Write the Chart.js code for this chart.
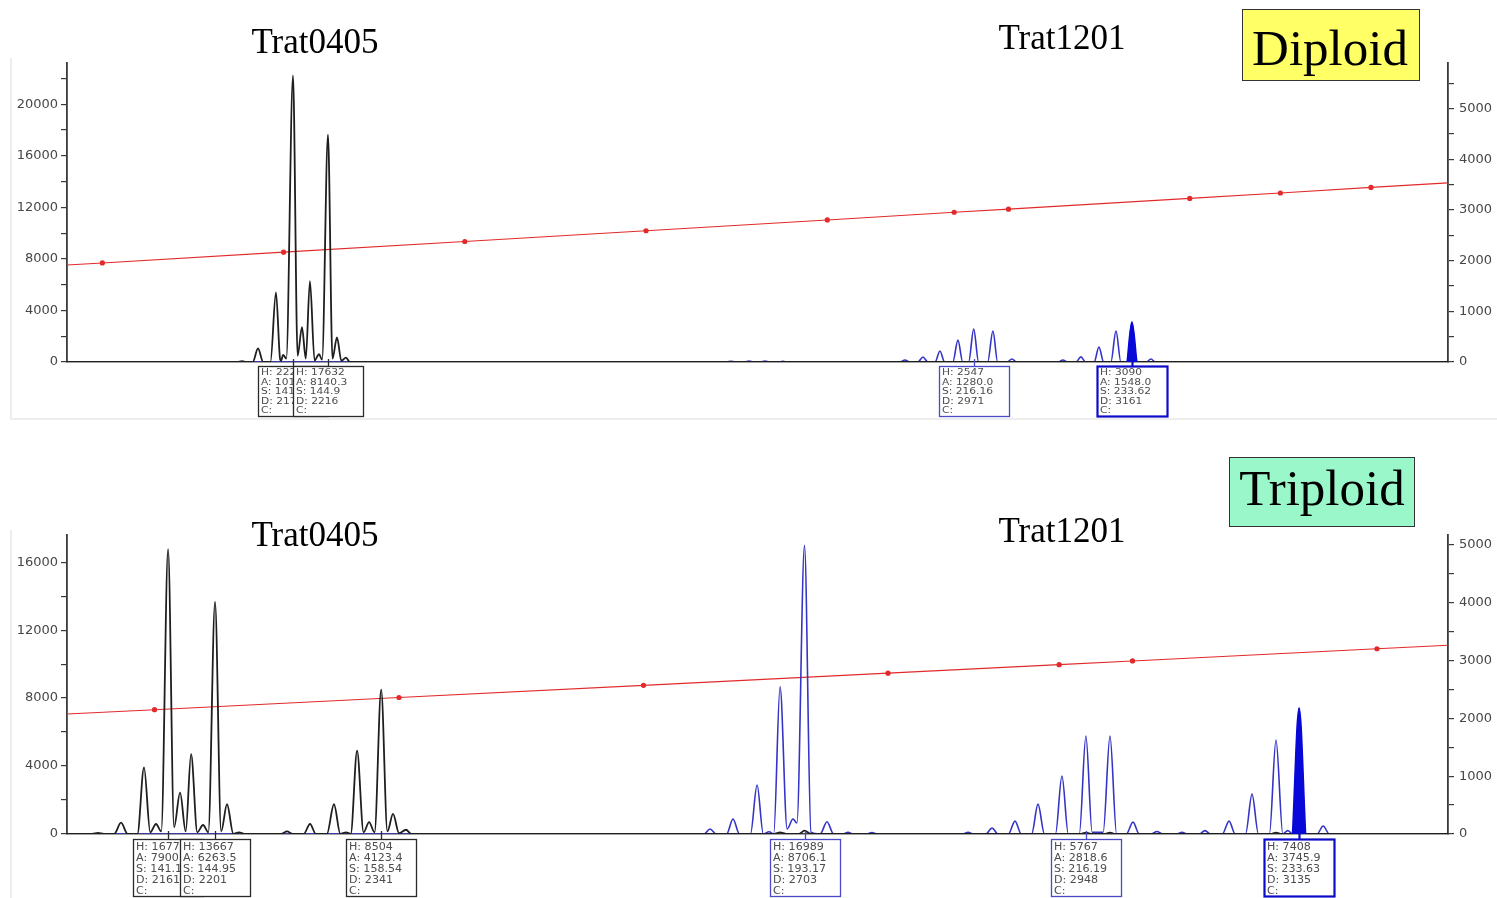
<!DOCTYPE html>
<html>
<head>
<meta charset="utf-8">
<script src="https://cdn.jsdelivr.net/npm/chart.js@4.4.1/dist/chart.umd.min.js"></script>
<style>
  html, body { margin: 0; padding: 0; background: #fff; }
  body { width: 1497px; height: 898px; overflow: hidden; position: relative; }
  canvas { position: absolute; left: 0; }
  #cTop { top: 0; }
  #cBot { top: 450px; }
  .frame { position: absolute; border-left: 2px solid #ededed; }
  .serif { position: absolute; font-family: 'Liberation Serif', 'Times New Roman', serif; color: #000;
           line-height: 0; white-space: nowrap; transform: translateX(-50%); }
  .tag { position: absolute; box-sizing: border-box; border: 1.5px solid #333; }
</style>
</head>
<body>
<div class="frame" style="left:10px;top:58px;width:1487px;height:360px;border-bottom:2px solid #ededed"></div>
<div class="frame" style="left:10px;top:530px;height:368px"></div>

<canvas id="cTop" width="1497" height="420"></canvas>
<canvas id="cBot" width="1497" height="448"></canvas>

<div class="serif" style="left:315px;top:42px;font-size:35px">Trat0405</div>
<div class="serif" style="left:1062px;top:38px;font-size:35px">Trat1201</div>
<div class="tag" style="left:1242px;top:9px;width:178px;height:72px;background:#ffff66"></div>
<div class="serif" style="left:1330px;top:48px;font-size:51px">Diploid</div>

<div class="serif" style="left:315px;top:535px;font-size:35px">Trat0405</div>
<div class="serif" style="left:1062px;top:531px;font-size:35px">Trat1201</div>
<div class="tag" style="left:1229px;top:457px;width:186px;height:70px;background:#99f7c9"></div>
<div class="serif" style="left:1322px;top:488px;font-size:51px">Triploid</div>

<script>
// ---- Diploid sample -------------------------------------------------------
// x range of the run window, in base pairs
const diploidRange = [116.1, 268.5];

// Axis tick positions (labels on every other one)
const diploidRfuTicks  = [0, 2000, 4000, 6000, 8000, 10000, 12000, 14000, 16000, 18000, 20000, 22000];
const diploidScanTicks = [0, 500, 1000, 1500, 2000, 2500, 3000, 3500, 4000, 4500, 5000, 5500];

// Trace points: [size (bp), signal (RFU)], apexes and valleys along each dye trace
const diploidTrat0405 = [
  [116.1, 0], [134.9, 0], [135.41, 60], [135.9, 0], [136.6, 0], [137.18, 1050], [137.75, 0],
  [138.55, 0], [139.16, 5400], [139.62, 200], [139.72, 90], [139.95, 560], [140.3, 260],
  [141.04, 22238], [141.55, 480], [142.03, 2700], [142.45, 260], [142.91, 6280], [143.42, 120],
  [143.91, 600], [144.25, 180], [144.9, 17632], [145.4, 260], [145.89, 1900], [146.38, 90],
  [146.89, 340], [147.3, 0], [268.5, 0]
];
const diploidTrat1201 = [
  [116.1, 0], [188.9, 0], [189.37, 60], [189.85, 0], [190.9, 0], [191.36, 80], [191.85, 0],
  [192.65, 0], [193.12, 80], [193.6, 0], [194.6, 0], [195.1, 50], [195.6, 0],
  [208.05, 0], [208.57, 150], [209.1, 0], [210.0, 0], [210.56, 390], [211.1, 0],
  [211.9, 0], [212.43, 850], [212.95, 0], [213.85, 0], [214.42, 1700], [214.95, 0],
  [215.6, 0], [216.16, 2547], [216.7, 0], [217.7, 0], [218.28, 2400], [218.8, 0],
  [219.85, 0], [220.38, 230], [220.9, 0], [225.5, 0], [226.0, 150], [226.5, 0],
  [227.45, 0], [227.99, 400], [228.5, 0], [229.45, 0], [229.98, 1160], [230.5, 0],
  [231.3, 0], [231.86, 2400], [232.4, 0], [233.1, 0], [233.62, 3090], [234.15, 0],
  [235.2, 0], [235.72, 230], [236.2, 0], [268.5, 0]
];
const diploidSelectedPeak = [[233.1, 0], [233.62, 3090], [234.15, 0]];

// Size-standard calibration: fragment size (bp) against data point (scan)
const diploidSizeBp   = [116.1, 120, 140, 160, 180, 200, 214, 220, 240, 250, 260, 268.5];
const diploidSizeScan = [1915, 1955, 2168, 2378, 2590, 2803, 2955, 3016, 3228, 3335, 3445, 3535];

// Allele calls
const diploidCallBp  = [141.04, 144.9, 216.16, 233.62];
const diploidCallH   = [22238, 17632, 2547, 3090];
const diploidCallA   = ['10152.6', '8140.3', '1280.0', '1548.0'];
const diploidCallS   = ['141.04', '144.9', '216.16', '233.62'];
const diploidCallD   = [2175, 2216, 2971, 3161];
const diploidCallDye = ['Trat0405', 'Trat0405', 'Trat1201', 'Trat1201'];

// ---- Triploid sample ------------------------------------------------------
const triploidRange = [132.84, 245.81];

const triploidRfuTicks  = [0, 2000, 4000, 6000, 8000, 10000, 12000, 14000, 16000];
const triploidScanTicks = [0, 500, 1000, 1500, 2000, 2500, 3000, 3500, 4000, 4500, 5000];

const triploidTrat0405 = [
  [132.84, 0], [134.9, 0], [135.38, 60], [135.85, 0], [136.7, 0], [137.26, 665], [137.8, 0],
  [138.6, 0], [139.14, 3920], [139.65, 100], [140.12, 590], [140.55, 150], [141.11, 16774],
  [141.6, 400], [142.09, 2430], [142.55, 150], [142.99, 4700], [143.5, 100], [143.97, 530],
  [144.4, 100], [144.95, 13667], [145.45, 150], [145.93, 1750], [146.45, 0], [146.91, 100],
  [147.35, 0], [150.35, 0], [150.84, 150], [151.3, 0], [152.2, 0], [152.72, 590], [153.2, 0],
  [154.1, 0], [154.68, 1750], [155.2, 0], [155.67, 100], [156.05, 0], [156.57, 4900],
  [157.1, 100], [157.55, 700], [158.0, 100], [158.54, 8504], [159.05, 150], [159.51, 1180],
  [160.0, 50], [160.57, 250], [161.0, 0],
  [190.7, 0], [191.17, 100], [191.7, 0], [192.7, 0], [193.17, 200], [193.7, 0],
  [215.7, 0], [216.19, 80], [216.7, 0], [217.7, 0], [218.16, 80], [218.6, 0],
  [231.3, 0], [231.74, 80], [232.2, 0], [245.81, 0]
];
const triploidTrat1201 = [
  [132.84, 0], [184.95, 0], [185.44, 290], [185.95, 0], [186.8, 0], [187.32, 880], [187.85, 0],
  [188.75, 0], [189.29, 2880], [189.8, 0], [190.27, 130], [190.65, 0], [191.17, 8670],
  [191.75, 300], [192.23, 880], [192.55, 650], [193.17, 16989], [193.7, 100], [194.45, 0],
  [195.01, 720], [195.55, 0], [196.3, 0], [196.73, 100], [197.15, 0], [198.25, 0], [198.69, 80],
  [199.1, 0], [206.1, 0], [206.55, 100], [207.0, 0], [208.0, 0], [208.51, 350], [209.0, 0],
  [209.85, 0], [210.39, 760], [210.9, 0], [211.75, 0], [212.27, 1760], [212.8, 0],
  [213.7, 0], [214.23, 3410], [214.75, 0], [215.65, 0], [216.19, 5767], [216.7, 100],
  [217.6, 100], [218.16, 5760], [218.7, 0], [219.5, 0], [220.04, 700], [220.55, 0],
  [221.55, 0], [222.0, 150], [222.45, 0], [223.6, 0], [224.05, 100], [224.5, 0],
  [225.45, 0], [225.93, 200], [226.4, 0], [227.35, 0], [227.9, 760], [228.4, 0],
  [229.25, 0], [229.78, 2350], [230.3, 0], [231.2, 0], [231.74, 5530], [232.3, 0],
  [232.7, 200], [233.1, 0], [233.63, 7408], [234.15, 0], [235.1, 0], [235.6, 470],
  [236.1, 0], [245.81, 0]
];
const triploidSelectedPeak = [[233.1, 0], [233.63, 7408], [234.15, 0]];

const triploidSizeBp   = [132.84, 140, 160, 180, 200, 214, 220, 240, 245.81];
const triploidSizeScan = [2074, 2149, 2360, 2570, 2781, 2928, 2992, 3203, 3264];

const triploidCallBp  = [141.11, 144.95, 158.54, 193.17, 216.19, 233.63];
const triploidCallH   = [16774, 13667, 8504, 16989, 5767, 7408];
const triploidCallA   = ['7900.8', '6263.5', '4123.4', '8706.1', '2818.6', '3745.9'];
const triploidCallS   = ['141.11', '144.95', '158.54', '193.17', '216.19', '233.63'];
const triploidCallD   = [2161, 2201, 2341, 2703, 2948, 3135];
const triploidCallDye = ['Trat0405', 'Trat0405', 'Trat0405', 'Trat1201', 'Trat1201', 'Trat1201'];

// ---- drawing --------------------------------------------------------------
const INK_BLACK = '#1e1e1e';
const INK_BLUE = '#3434c6';
const INK_SELECTED = '#0808d8';
const INK_RED = '#e22a2a';
const AXIS = '#3a3a3a';

const pairsToPoints = pairs => pairs.map(([x, y]) => ({ x, y }));
const zipPoints = (xs, ys) => xs.map((x, i) => ({ x, y: ys[i] }));

// Peak call boxes hung under the baseline, centred on each called peak
const callBoxes = {
  id: 'callBoxes',
  afterDraw(chart, args, o) {
    const { ctx, chartArea, scales } = chart;
    const base = chartArea.bottom;
    ctx.save();
    o.bp.forEach((bp, i) => {
      const cx = Math.round(scales.x.getPixelForValue(bp));
      const sel = i === o.selected;
      const col = o.dye[i] === 'Trat0405' ? '#2a2a2a' : (sel ? '#0c0cc8' : '#4a4ac8');
      const left = cx - o.boxW / 2;
      const top = base + o.gap;
      ctx.fillStyle = '#fff';
      ctx.fillRect(left, top, o.boxW, o.boxH);
      ctx.strokeStyle = col;
      ctx.lineWidth = sel ? 2.2 : 1.3;
      ctx.strokeRect(left + 0.5, top + 0.5, o.boxW, o.boxH);
      ctx.beginPath();
      ctx.moveTo(cx + 0.5, base - 3);
      ctx.lineTo(cx + 0.5, top);
      ctx.stroke();
      const lines = ['H: ' + o.h[i], 'A: ' + o.a[i], 'S: ' + o.s[i], 'D: ' + o.d[i], 'C:'];
      ctx.save();
      ctx.beginPath();
      ctx.rect(left + 1, top + 1, o.boxW - 1, o.boxH - 1);
      ctx.clip();
      ctx.fillStyle = '#4d4d4d';
      ctx.font = o.font;
      ctx.textBaseline = 'alphabetic';
      lines.forEach((t, k) => {
        ctx.save();
        ctx.translate(left + 3, top + o.first + k * o.lineH);
        ctx.scale(o.stretch, 1);
        ctx.fillText(t, 0, 0);
        ctx.restore();
      });
      ctx.restore();
    });
    ctx.restore();
  }
};

function valueAxis(position, max, tickValues, every, width, padding) {
  return {
    position, min: 0, max,
    afterBuildTicks: s => { s.ticks = tickValues.map(value => ({ value })); },
    ticks: { autoSkip: false, padding, color: '#474747',
             font: { family: 'DejaVu Sans', size: 13 },
             callback: v => (v % every === 0 ? String(v) : '') },
    grid: { drawOnChartArea: false, drawTicks: true, tickLength: 6, color: AXIS, lineWidth: 1.2 },
    border: { display: true, color: AXIS, width: 1.8 },
    afterFit: s => { s.width = width; }
  };
}

function panel(id, p) {
  const traceBase = { pointRadius: 0, cubicInterpolationMode: 'monotone', fill: false };
  const last = p.sizeBp.length - 1;
  return new Chart(document.getElementById(id), {
    type: 'line',
    data: {
      datasets: [
        { ...traceBase, data: pairsToPoints(p.selected), borderColor: INK_SELECTED,
          backgroundColor: INK_SELECTED, fill: 'origin', borderWidth: 1.8, order: 0 },
        { ...traceBase, data: pairsToPoints(p.black), borderColor: INK_BLACK, borderWidth: 1.8, order: 1 },
        { ...traceBase, data: pairsToPoints(p.blue), borderColor: INK_BLUE, borderWidth: 1.6, order: 2 },
        { data: zipPoints(p.sizeBp, p.sizeScan), yAxisID: 'y2', borderColor: INK_RED, borderWidth: 1.1,
          tension: 0, fill: false, order: 3,
          pointRadius: c => (c.dataIndex === 0 || c.dataIndex === last) ? 0 : 2.6,
          pointBackgroundColor: INK_RED, pointBorderWidth: 0 }
      ]
    },
    options: {
      responsive: false,
      animation: false,
      devicePixelRatio: 1,
      events: [],
      layout: { padding: { top: p.padTop, left: 0, right: 0, bottom: 0 } },
      plugins: {
        legend: { display: false },
        tooltip: { enabled: false },
        callBoxes: p.calls
      },
      scales: {
        x: {
          type: 'linear', min: p.range[0], max: p.range[1], z: 1,
          ticks: { display: false },
          grid: { display: false },
          border: { display: true, color: '#4a4a4a', width: 1.6 },
          afterFit: s => { s.height = p.xHeight; }
        },
        y: valueAxis('left', p.leftMax, p.rfuTicks, 4000, 67, 3),
        y2: valueAxis('right', p.rightMax, p.scanTicks, 1000, 49, 5)
      }
    },
    plugins: [callBoxes]
  });
}

panel('cTop', {
  range: diploidRange, padTop: 63, xHeight: 58, leftMax: 23200, rightMax: 5900,
  rfuTicks: diploidRfuTicks, scanTicks: diploidScanTicks,
  black: diploidTrat0405, blue: diploidTrat1201, selected: diploidSelectedPeak,
  sizeBp: diploidSizeBp, sizeScan: diploidSizeScan,
  calls: { bp: diploidCallBp, h: diploidCallH, a: diploidCallA, s: diploidCallS, d: diploidCallD,
           dye: diploidCallDye, selected: 3,
           boxW: 70, boxH: 50, gap: 4, first: 9, lineH: 9.5, stretch: 1.12, font: '9.5px "DejaVu Sans"' }
});

panel('cBot', {
  range: triploidRange, padTop: 85, xHeight: 64, leftMax: 17600, rightMax: 5170,
  rfuTicks: triploidRfuTicks, scanTicks: triploidScanTicks,
  black: triploidTrat0405, blue: triploidTrat1201, selected: triploidSelectedPeak,
  sizeBp: triploidSizeBp, sizeScan: triploidSizeScan,
  calls: { bp: triploidCallBp, h: triploidCallH, a: triploidCallA, s: triploidCallS, d: triploidCallD,
           dye: triploidCallDye, selected: 5,
           boxW: 70, boxH: 57, gap: 5, first: 10.5, lineH: 11, stretch: 1.11, font: '10px "DejaVu Sans"' }
});
</script>
</body>
</html>
